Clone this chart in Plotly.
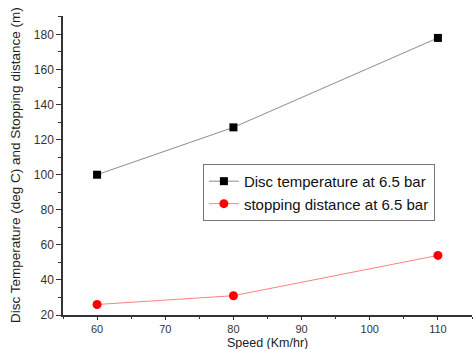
import plotly.graph_objects as go

speed = [60, 80, 110]
disc_temp = [100, 127, 178]
stop_dist = [26, 31, 54]
names = ["Disc temperature at 6.5 bar", "stopping distance at 6.5 bar"]
x_title = "Speed (Km/hr)"
y_title = "Disc Temperature (deg C) and Stopping distance (m)"

fig = go.Figure()
fig.add_trace(go.Scatter(x=speed, y=disc_temp, mode="lines+markers", name=names[0],
                         line=dict(color="#8c8c8c", width=1),
                         marker=dict(symbol="square", color="black", size=8)))
fig.add_trace(go.Scatter(x=speed, y=stop_dist, mode="lines+markers", name=names[1],
                         line=dict(color="#ff8080", width=1),
                         marker=dict(symbol="circle", color="red", size=9)))

font = "Liberation Sans, Arial, sans-serif"
fig.update_layout(
    width=473, height=349,
    margin=dict(l=63, r=1, t=16, b=34),
    paper_bgcolor="white", plot_bgcolor="white",
    font=dict(family=font, color="#333333", size=12),
    showlegend=True,
    legend=dict(x=0.342, y=0.41, xanchor="left", yanchor="middle",
                bgcolor="white", bordercolor="#777777", borderwidth=1,
                font=dict(size=15, color="#111111"), tracegroupgap=0,
                itemwidth=30),
    xaxis=dict(range=[55, 115], tickvals=[60, 70, 80, 90, 100, 110], automargin=False,
               showgrid=False, zeroline=False, showline=True, linecolor="#333333",
               linewidth=1.5, ticks="outside", ticklen=3, tickcolor="#333333",
               minor=dict(tickvals=[55, 65, 75, 85, 95, 105, 115], ticks="outside", ticklen=2, tickcolor="#333333"),
               tickfont=dict(size=11)),
    yaxis=dict(range=[20, 190.5], tickvals=[20, 40, 60, 80, 100, 120, 140, 160, 180], automargin=False,
               showgrid=False, zeroline=False, showline=True, linecolor="#333333",
               linewidth=1.5, ticks="outside", ticklen=5, tickcolor="#333333",
               minor=dict(tickvals=[30, 50, 70, 90, 110, 130, 150, 170, 190], ticks="outside", ticklen=3, tickcolor="#333333"),
               tickfont=dict(size=12)),
    annotations=[
        dict(text=x_title, xref="paper", yref="paper", x=0.5, y=0, xanchor="center", yanchor="top",
             yshift=-19.5, showarrow=False, borderpad=0, font=dict(size=12.5, color="#222222")),
        dict(text=y_title, xref="paper", yref="paper", x=0, y=0.5, xanchor="right", yanchor="middle",
             xshift=-38, textangle=-90, showarrow=False, font=dict(size=13.5, color="#222222")),
    ],
)
fig.write_html("out.html", config={"displayModeBar": False},
               post_script="document.body.style.margin='0';")
